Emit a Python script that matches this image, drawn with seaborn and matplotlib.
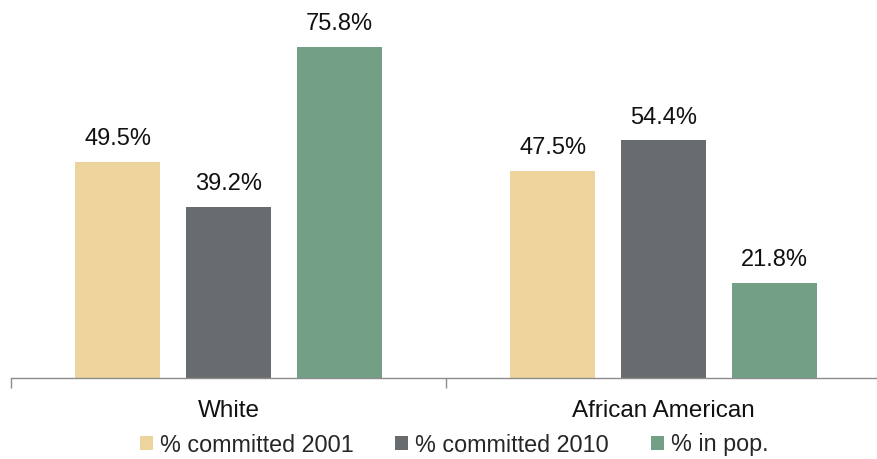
import matplotlib
matplotlib.use("Agg")
import matplotlib.pyplot as plt
import seaborn as sns
import pandas as pd
from matplotlib.patches import Patch

categories = ["White", "African American"]
series = ["% committed 2001", "% committed 2010", "% in pop."]
committed_2001 = [49.5, 47.5]
committed_2010 = [39.2, 54.4]
in_pop = [75.8, 21.8]
colors = ["#EDD49C", "#686C6E", "#749F87"]

rows = []
for s, vals in zip(series, [committed_2001, committed_2010, in_pop]):
    for c, v in zip(categories, vals):
        rows.append({"category": c, "series": s, "value": v})
df = pd.DataFrame(rows)

sns.set_theme(style="white")
plt.rcParams["font.family"] = ["Liberation Sans", "DejaVu Sans"]

fig = plt.figure(figsize=(8.78, 4.59), dpi=100)
ax = fig.add_axes([11 / 878, 81 / 459, 870 / 878, 378 / 459])

sns.barplot(data=df, x="category", y="value", hue="series", order=categories,
            hue_order=series, palette=colors, width=0.765, gap=0.235,
            saturation=1, ax=ax, legend=False, edgecolor="none")

for cont in ax.containers:
    ax.bar_label(cont, labels=[f"{v:.1f}%" for v in cont.datavalues],
                 padding=8.5, fontsize=17, color="#111111")

ax.set_xlim(-0.5, 1.5)
ax.set_ylim(0, 378 / 4.367)
ax.set_xlabel("")
ax.set_ylabel("")
ax.set_yticks([])
for sp in ["top", "right", "left"]:
    ax.spines[sp].set_visible(False)
ax.spines["bottom"].set_color("#8C8C8C")
ax.spines["bottom"].set_linewidth(1.0)

ax.set_xticks([0, 1])
ax.set_xticklabels(categories, fontsize=17.5, color="#111111")
ax.tick_params(axis="x", which="major", length=0, pad=16)
ax.set_xticks([-0.5, 0.5, 1.5], minor=True)
ax.tick_params(axis="x", which="minor", length=7, width=1, color="#8C8C8C",
               direction="out", bottom=True)

handles = [Patch(facecolor=c, edgecolor="none") for c in colors]
fig.legend(handles, series, loc="center", bbox_to_anchor=(454 / 878, 1 - 445 / 459),
           ncol=3, frameon=False, handlelength=0.55, handleheight=0.55,
           handletextpad=0.3, columnspacing=1.8, borderpad=0,
           prop={"size": 16.8})

fig.savefig("out.png", dpi=100)
